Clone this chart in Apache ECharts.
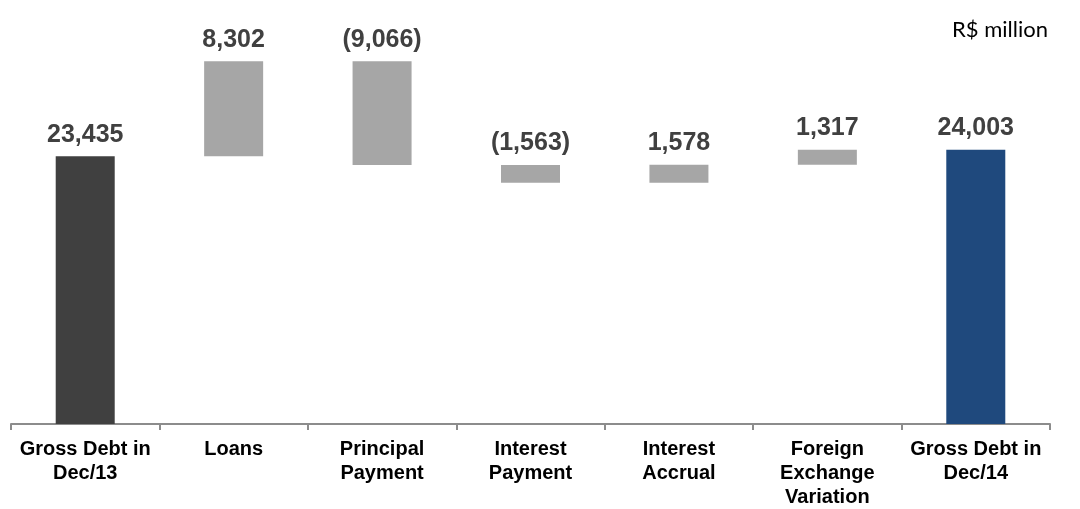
<!DOCTYPE html>
<html><head><meta charset="utf-8">
<script src="https://cdn.jsdelivr.net/npm/echarts@6/dist/echarts.min.js"></script>
<style>html,body{margin:0;padding:0;background:#fff}#c{width:1080px;height:509px}</style>
</head><body><div id="c"></div>
<script>
var categories = ['Gross Debt in\nDec/13', 'Loans', 'Principal\nPayment', 'Interest\nPayment', 'Interest\nAccrual', 'Foreign\nExchange\nVariation', 'Gross Debt in\nDec/14'];
var values = [23435, 8302, -9066, -1563, 1578, 1317, 24003];
var isTotal = [true, false, false, false, false, false, true];
var barColors = ['#404040', '#A6A6A6', '#A6A6A6', '#A6A6A6', '#A6A6A6', '#A6A6A6', '#1F497D'];
var unitLabel = 'R$ million';

var base = [], height = [], running = 0;
values.forEach(function (v, i) {
  if (isTotal[i]) { base.push(0); height.push(v); running = v; }
  else if (v >= 0) { base.push(running); height.push(v); running += v; }
  else { running += v; base.push(running); height.push(-v); }
});
function fmt(v) {
  var s = Math.abs(v).toLocaleString('en-US');
  return v < 0 ? '(' + s + ')' : s;
}
var chart = echarts.init(document.getElementById('c'));
chart.setOption({
  animation: false,
  grid: { left: 11, right: 30, top: 24, bottom: 83 },
  graphic: [{ type: 'text', right: 32, top: 19, style: { text: unitLabel, font: '22px Lato, "Open Sans", sans-serif', fill: '#000' } }],
  xAxis: {
    type: 'category', data: categories,
    axisLine: { lineStyle: { color: '#8C8C8C', width: 2 } },
    axisTick: { show: true, interval: 0, length: 6, lineStyle: { color: '#8C8C8C', width: 2 } },
    axisLabel: { margin: 13, color: '#000', fontSize: 20, fontWeight: 'bold', fontFamily: '"Liberation Sans", Arial, sans-serif', lineHeight: 24, interval: 0 }
  },
  yAxis: { type: 'value', min: 0, max: 35000, show: false, splitLine: { show: false } },
  series: [
    { type: 'bar', stack: 'w', data: base, barWidth: 59, itemStyle: { color: 'transparent' }, silent: true },
    { type: 'bar', stack: 'w', barWidth: 59,
      data: height.map(function (h, i) { return { value: h, itemStyle: { color: barColors[i] } }; }),
      label: { show: true, position: 'top', distance: 9, color: '#404040', fontSize: 25, fontWeight: 'bold', fontFamily: '"Liberation Sans", Arial, sans-serif',
        formatter: function (p) { return fmt(values[p.dataIndex]); } } }
  ]
});
</script></body></html>
